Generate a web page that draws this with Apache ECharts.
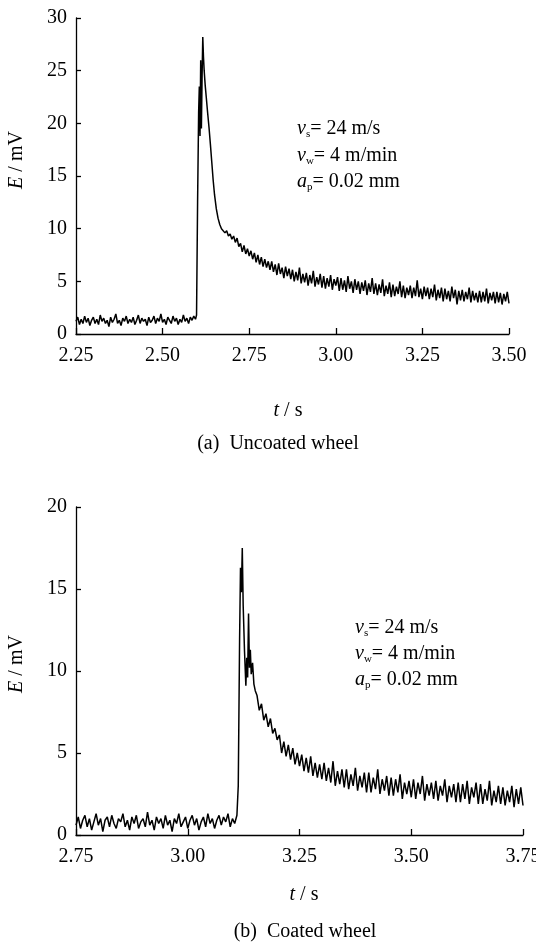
<!DOCTYPE html>
<html>
<head>
<meta charset="utf-8">
<script src="https://cdn.jsdelivr.net/npm/echarts@6/dist/echarts.min.js"></script>
<style>
  html, body { margin: 0; padding: 0; background: #fff; }
  #chart { width: 536px; height: 947px; }
</style>
</head>
<body>
<div id="chart"></div>
<script>
// (a) uncoated wheel, sampled every 5 ms except around the spike
const xTicksA = [2.25, 2.50, 2.75, 3.00, 3.25, 3.50];
const yTicksA = [0, 5, 10, 15, 20, 25, 30];
const preStartA = 2.25;
const preA = [1.2,1.6,0.9,1.4,1.0,1.7,1.1,1.5,0.8,1.3,1.6,1.0,1.4,0.9,1.8,1.2,1.5,1.0,1.3,0.7,
  1.6,1.1,1.4,1.9,1.0,1.3,0.8,1.5,1.2,1.7,1.0,1.4,1.1,1.6,0.9,1.3,1.8,1.0,1.5,1.2,
  1.4,0.8,1.6,1.1,1.3,1.7,1.0,1.5,1.2,1.9,1.1,1.4,0.9,1.6,1.3,1.0,1.7,1.2,1.5,0.9,
  1.4,1.1,1.8,1.2,1.5,1.0,1.6,1.3,1.7,1.4];
const spikeTimesA = [2.598,2.601,2.604,2.606,2.608,2.610,2.612,2.614,2.616,2.618,2.620,2.623,2.626,2.630,2.634,2.638,2.642,2.646,2.650,2.655,2.660];
const spikeA = [1.8,12.5,21.0,23.5,18.8,26.0,19.5,24.5,28.2,26.3,25.0,23.6,22.5,21.0,19.6,18.0,16.3,14.6,13.2,11.9,11.0];
const tailStartA = 2.665;
const tailA = [10.4,10.0,10.1,9.6,9.8,9.3,9.5,9.0,9.3,8.7,
  9.1,8.3,8.6,7.8,8.4,7.6,8.1,7.4,7.9,7.1,
  7.7,6.8,7.5,6.6,7.3,6.4,7.1,6.3,6.9,6.1,
  6.9,5.9,6.6,5.6,6.7,5.7,6.3,5.3,6.4,5.5,
  6.2,5.2,6.1,5.0,5.9,5.1,6.3,4.8,5.7,4.9,
  5.8,4.6,5.6,4.8,6.0,4.5,5.4,4.7,5.7,4.4,
  5.5,4.3,5.3,4.5,5.6,4.2,5.2,4.6,5.4,4.1,
  5.3,4.2,5.1,4.0,5.5,4.3,5.0,3.9,5.2,4.2,
  5.0,3.8,4.9,4.1,5.1,3.7,4.8,4.0,5.3,3.8,
  4.8,3.7,4.7,3.9,5.2,3.6,4.6,3.8,4.9,3.5,
  4.7,3.6,4.5,3.8,5.0,3.5,4.6,3.4,4.4,3.7,
  4.6,3.4,4.4,3.6,5.1,3.5,4.3,3.3,4.5,3.6,
  4.4,3.3,4.3,3.5,4.7,3.2,4.2,3.4,4.4,3.1,
  4.3,3.3,4.1,3.1,4.5,3.4,4.2,2.8,4.1,3.2,
  4.2,3.1,4.0,3.3,4.4,3.0,4.1,3.2,3.9,3.0,
  4.1,3.0,4.0,3.1,4.3,2.9,3.9,3.2,4.0,2.9,
  4.0,3.0,3.9,2.8,3.8,3.1,4.0,2.9];

// (b) coated wheel
const xTicksB = [2.75, 3.00, 3.25, 3.50, 3.75];
const yTicksB = [0, 5, 10, 15, 20];
const preStartB = 2.75;
const preB = [0.6,1.1,0.4,0.9,1.2,0.5,1.0,0.3,0.8,1.3,0.6,1.0,0.2,0.9,1.1,0.5,1.2,0.7,0.4,1.0,
  0.8,1.3,0.5,0.9,0.3,1.1,0.7,1.2,0.4,0.8,1.0,0.5,1.4,0.6,0.9,0.3,1.1,0.7,1.0,0.4,
  1.2,0.6,0.9,0.2,1.0,0.7,1.3,0.5,0.8,1.1,0.4,0.9,1.2,0.6,1.0,0.3,0.8,1.1,0.5,1.3,
  0.7,1.0,0.4,0.9,1.2,0.6,1.1,0.8,1.3,0.5,1.0,0.7,1.2];
const spikeTimesB = [3.113,3.116,3.118,3.120,3.122,3.124,3.127,3.130,3.132,3.134,3.136,3.138,3.140,3.142,3.145,3.148,3.151];
const spikeB = [3.0,12.0,16.3,14.8,17.5,14.0,11.2,9.1,10.8,9.6,13.5,10.2,11.3,9.8,10.5,9.2,8.8];
const tailStartB = 3.155;
const tailB = [8.5,7.6,8.0,7.0,7.4,6.6,7.1,6.2,6.5,5.8,
  6.1,5.0,5.7,4.8,5.5,4.6,5.3,4.3,5.0,4.2,
  4.9,3.9,4.7,3.8,4.8,3.6,4.4,3.5,4.3,3.4,
  4.4,3.3,4.1,3.2,4.5,3.0,3.9,3.1,4.0,2.9,
  4.0,2.8,3.7,3.0,4.1,2.7,3.6,2.9,3.8,2.6,
  3.8,2.6,3.5,2.8,4.0,2.5,3.4,2.7,3.6,2.4,
  3.5,2.4,3.4,2.6,3.7,2.2,3.2,2.5,3.3,2.3,
  3.4,2.2,3.2,2.5,3.6,2.1,3.1,2.4,3.2,2.2,
  3.3,2.1,3.0,2.4,3.4,2.0,3.0,2.3,3.1,2.0,
  3.2,2.0,3.1,2.2,3.3,1.9,2.9,2.3,3.2,1.9,
  3.1,1.9,2.8,2.1,3.3,1.8,2.7,2.0,3.0,1.9,
  2.9,1.8,2.7,2.0,3.0,1.7,2.8,1.9,2.9,1.8];
const step = 0.005;

function onGrid(t0, vals) {
  return vals.map((v, i) => [+(t0 + i * step).toFixed(4), v]);
}
function pairs(ts, vals) {
  return ts.map((t, i) => [t, vals[i]]);
}
const dataA = onGrid(preStartA, preA).concat(pairs(spikeTimesA, spikeA), onGrid(tailStartA, tailA));
const dataB = onGrid(preStartB, preB).concat(pairs(spikeTimesB, spikeB), onGrid(tailStartB, tailB));

const FONT = '"Liberation Serif", "Times New Roman", serif';

function xAx(idx, ticks) {
  return {
    type: 'value', gridIndex: idx,
    min: ticks[0], max: ticks[ticks.length - 1], interval: 0.25,
    axisLine: { show: true, onZero: false, lineStyle: { color: '#000', width: 1.3 } },
    axisTick: { show: true, inside: true, length: 6, lineStyle: { color: '#000', width: 1.3 } },
    axisLabel: { color: '#000', fontFamily: FONT, fontSize: 20, margin: 12,
      formatter: v => v.toFixed(2) },
    splitLine: { show: false }
  };
}
function yAx(idx, ticks) {
  return {
    type: 'value', gridIndex: idx,
    min: ticks[0], max: ticks[ticks.length - 1], interval: 5,
    axisLine: { show: true, onZero: false, lineStyle: { color: '#000', width: 1.3 } },
    axisTick: { show: true, inside: true, length: 5, lineStyle: { color: '#000', width: 1.3 } },
    axisLabel: { color: '#000', fontFamily: FONT, fontSize: 20, margin: 9 },
    splitLine: { show: false }
  };
}
function txt(x, y, text, rot) {
  return {
    type: 'text', x: x, y: y, rotation: rot || 0,
    style: {
      text: text, fill: '#000', font: '19px ' + FONT,
      align: 'center', verticalAlign: 'middle',
      rich: {
        i: { fontFamily: FONT, fontSize: 20, fontStyle: 'italic', lineHeight: 22 },
        n: { fontFamily: FONT, fontSize: 20, lineHeight: 22 }
      }
    }
  };
}
function param(x, y, sym, sub, rest) {
  return {
    type: 'text', x: x, y: y,
    style: {
      text: '{i|' + sym + '}{s|' + sub + '}{n|' + rest + '}',
      fill: '#000', align: 'left', verticalAlign: 'middle',
      rich: {
        i: { fontFamily: FONT, fontSize: 20, fontStyle: 'italic', lineHeight: 22, verticalAlign: 'middle' },
        s: { fontFamily: FONT, fontSize: 11, lineHeight: 9, verticalAlign: 'bottom' },
        n: { fontFamily: FONT, fontSize: 20, lineHeight: 22, verticalAlign: 'middle' }
      }
    }
  };
}

const chart = echarts.init(document.getElementById('chart'), null, { renderer: 'canvas' });
chart.setOption({
  backgroundColor: '#fff',
  animation: false,
  grid: [
    { left: 76, top: 18, width: 433, height: 316, outerBoundsMode: 'none' },
    { left: 76, top: 507, width: 447, height: 328, outerBoundsMode: 'none' }
  ],
  xAxis: [xAx(0, xTicksA), xAx(1, xTicksB)],
  yAxis: [yAx(0, yTicksA), yAx(1, yTicksB)],
  series: [
    { type: 'line', xAxisIndex: 0, yAxisIndex: 0, data: dataA, showSymbol: false,
      lineStyle: { color: '#000', width: 1.5 }, sampling: null },
    { type: 'line', xAxisIndex: 1, yAxisIndex: 1, data: dataB, showSymbol: false,
      lineStyle: { color: '#000', width: 1.5 }, sampling: null }
  ],
  graphic: [
    txt(17, 160, '{i|E}{n| / mV}', Math.PI / 2),
    txt(288, 411, '{i|t}{n| / s}'),
    txt(278, 444, '{n|(a)  Uncoated wheel}'),
    param(297, 129, 'v', 's', '= 24 m/s'),
    param(297, 156, 'v', 'w', '= 4 m/min'),
    param(297, 182, 'a', 'p', '= 0.02 mm'),
    txt(17, 664, '{i|E}{n| / mV}', Math.PI / 2),
    txt(304, 895, '{i|t}{n| / s}'),
    txt(305, 932, '{n|(b)  Coated wheel}'),
    param(355, 628, 'v', 's', '= 24 m/s'),
    param(355, 654, 'v', 'w', '= 4 m/min'),
    param(355, 680, 'a', 'p', '= 0.02 mm')
  ]
});
</script>
</body>
</html>
